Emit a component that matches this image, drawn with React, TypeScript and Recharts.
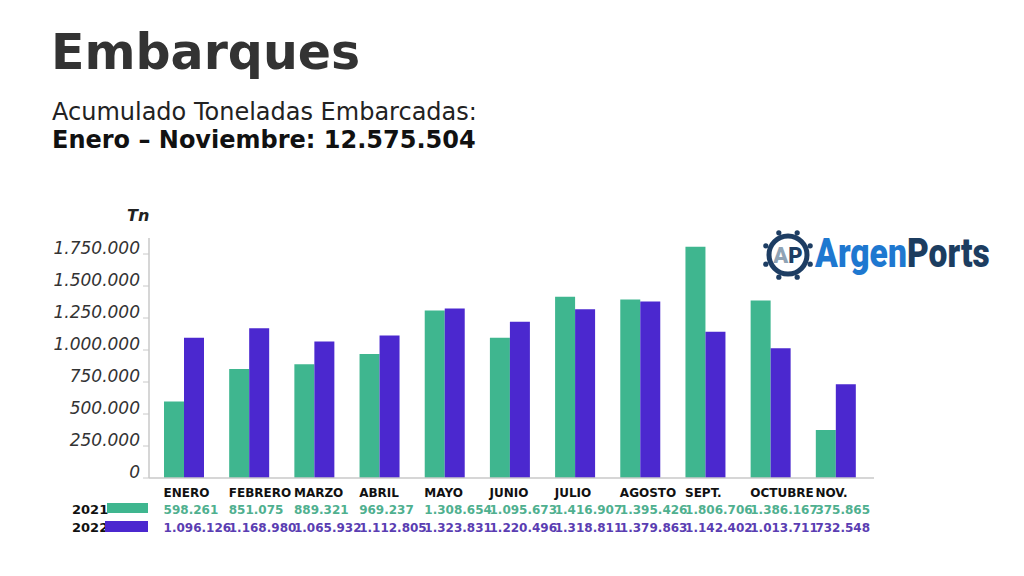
import React from "react";
import { BarChart, Bar, XAxis, YAxis } from "recharts";

const months = ["ENERO", "FEBRERO", "MARZO", "ABRIL", "MAYO", "JUNIO", "JULIO", "AGOSTO", "SEPT.", "OCTUBRE", "NOV."];
const values2021 = [598261, 851075, 889321, 969237, 1308654, 1095673, 1416907, 1395426, 1806706, 1386167, 375865];
const values2022 = [1096126, 1168980, 1065932, 1112805, 1323831, 1220496, 1318811, 1379863, 1142402, 1013711, 732548];
const yTicks = [0, 250000, 500000, 750000, 1000000, 1250000, 1500000, 1750000];

const GREEN = "#3fb68f";
const PURPLE = "#4b28cf";
const GREEN_TXT = "#4fb08f";
const PURPLE_TXT = "#5a3db2";
const FONT = "'DejaVu Sans', sans-serif";

const fmt = (n: number) => String(n).replace(/\B(?=(\d{3})+(?!\d))/g, ".");

const data = months.map((m, i) => ({ month: m, y2021: values2021[i], y2022: values2022[i] }));

// tabla de valores debajo de cada mes
const TableTick = (props: any) => {
  const { x, y, payload } = props;
  const i = payload.index;
  const left = x - 20;
  return (
    <g fontFamily={FONT} fontWeight="bold" fontSize={12}>
      <text x={left} y={y + 19} fill="#111">{months[i]}</text>
      <text x={left} y={y + 36} fill={GREEN_TXT}>{fmt(values2021[i])}</text>
      <text x={left} y={y + 54} fill={PURPLE_TXT}>{fmt(values2022[i])}</text>
    </g>
  );
};

const YTick = (props: any) => {
  const { x, y, payload } = props;
  return (
    <text x={x} y={y - 6} dy="0.35em" textAnchor="end" fontFamily={FONT} fontStyle="italic" fontSize={17} fill="#333">
      {fmt(payload.value)}
    </text>
  );
};

function Logo() {
  const dots = Array.from({ length: 8 }, (_, k) => (k * Math.PI) / 4 + Math.PI / 8);
  return (
    <g>
      <circle cx={788} cy={255} r={19} fill="none" stroke="#1d3d63" strokeWidth={5} />
      {dots.map((a, k) => (
        <circle key={k} cx={788 + Math.cos(a) * 24} cy={255 + Math.sin(a) * 24} r={2.6} fill="#1d3d63" />
      ))}
      <text x={788} y={263} textAnchor="middle" fontFamily="Roboto, sans-serif" fontWeight={900} fontSize={22}>
        <tspan fill="#8fa3b5">A</tspan>
        <tspan fill="#1d3d63">P</tspan>
      </text>
      <g transform="translate(815,267) scale(0.84,1)">
        <text x={0} y={0} fontFamily="Roboto, sans-serif" fontWeight={900} fontSize={40}>
          <tspan fill="#1e78d0">Argen</tspan>
          <tspan fill="#1c3d60">Ports</tspan>
        </text>
      </g>
    </g>
  );
}

export default function App() {
  return (
    <div style={{ position: "absolute", left: 0, top: 0, width: 1024, height: 576, background: "#fff", fontFamily: FONT }}>
      <div style={{ position: "absolute", left: 51, top: 28, fontSize: 49, lineHeight: 1, fontWeight: "bold", color: "#333", whiteSpace: "nowrap" }}>
        Embarques
      </div>
      <div style={{ position: "absolute", left: 52, top: 100, fontSize: 24, lineHeight: 1, color: "#222", whiteSpace: "nowrap" }}>
        Acumulado Toneladas Embarcadas:
      </div>
      <div style={{ position: "absolute", left: 52, top: 128, fontSize: 24, lineHeight: 1, fontWeight: "bold", color: "#111", whiteSpace: "nowrap" }}>
        Enero – Noviembre: 12.575.504
      </div>

      <div style={{ position: "absolute", left: 0, top: 0 }}>
        <BarChart width={1024} height={576} data={data} margin={{ top: 238, right: 150, bottom: 0, left: 0 }} barGap={0}>
          <XAxis
            dataKey="month"
            height={98}
            interval={0}
            tickLine={false}
            tickSize={0}
            tickMargin={0}
            axisLine={{ stroke: "#c8c8c8", strokeWidth: 1.5 }}
            padding={{ left: 2, right: 6 }}
            tick={<TableTick />}
          />
          <YAxis
            width={149}
            domain={[0, 1875000]}
            ticks={yTicks}
            interval={0}
            tickSize={6}
            tickMargin={3}
            tickLine={{ stroke: "#c8c8c8" }}
            axisLine={{ stroke: "#c8c8c8", strokeWidth: 1.5 }}
            tick={<YTick />}
          />
          <Bar dataKey="y2021" fill={GREEN} barSize={20} isAnimationActive={false} />
          <Bar dataKey="y2022" fill={PURPLE} barSize={20} isAnimationActive={false} />
        </BarChart>
      </div>

      <svg width={1024} height={576} style={{ position: "absolute", left: 0, top: 0, pointerEvents: "none" }}>
        <text x={127} y={221} fontFamily={FONT} fontWeight="bold" fontStyle="italic" fontSize={16} fill="#222">Tn</text>
        <text x={72} y={514} fontFamily={FONT} fontWeight="bold" fontSize={13} fill="#111">2021</text>
        <rect x={107} y={503} width={41} height={10} fill={GREEN} />
        <text x={72} y={532} fontFamily={FONT} fontWeight="bold" fontSize={13} fill="#111">2022</text>
        <rect x={105} y={521} width={43} height={11} fill={PURPLE} />
        <Logo />
      </svg>
    </div>
  );
}
